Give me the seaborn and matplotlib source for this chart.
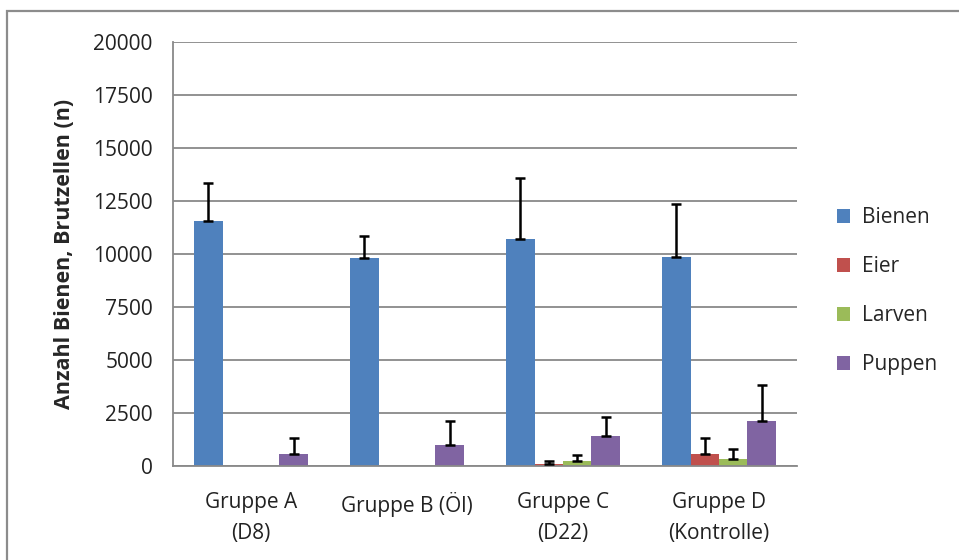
import numpy as np
import pandas as pd
import matplotlib
matplotlib.use("Agg")
import matplotlib.pyplot as plt
import seaborn as sns
from matplotlib.patches import Rectangle

# values
groups = ["Gruppe A\n(D8)", "Gruppe B (Öl)", "Gruppe C\n(D22)", "Gruppe D\n(Kontrolle)"]
series = ["Bienen", "Eier", "Larven", "Puppen"]
bienen = [11580, 9810, 10720, 9860]
eier = [0, 0, 80, 570]
larven = [0, 0, 220, 330]
puppen = [570, 1000, 1420, 2100]
bienen_err = [1780, 1050, 2880, 2480]
eier_err = [np.nan, np.nan, 170, 760]
larven_err = [np.nan, np.nan, 310, 460]
puppen_err = [760, 1140, 890, 1740]
y_ticks = [0, 2500, 5000, 7500, 10000, 12500, 15000, 17500, 20000]

colors = ["#4F81BD", "#C0504D", "#9BBB59", "#8064A2"]
grid_col = "#898989"

sns.set_style("white")
plt.rcParams['font.family'] = ['Open Sans', 'DejaVu Sans']

values = [bienen, eier, larven, puppen]
errors = [bienen_err, eier_err, larven_err, puppen_err]
df = pd.DataFrame({
    "Gruppe": [g for _ in series for g in groups],
    "Serie": [s for s in series for _ in groups],
    "Wert": [v for vals in values for v in vals],
})

fig = plt.figure(figsize=(9.59, 5.6), dpi=100)
ax = fig.add_axes([173 / 959, 1 - 466 / 560, (797 - 173) / 959, (466 - 42) / 560])

sns.barplot(data=df, x="Gruppe", y="Wert", hue="Serie", order=groups,
            hue_order=series, palette=colors, width=0.73, gap=0,
            errorbar=None, linewidth=0, saturation=1, ax=ax)

# one-sided (upward) error bars on top of each bar, skipping empty bars
for cont, errs in zip(ax.containers, errors):
    bars = sorted(cont.patches, key=lambda b: b.get_x())
    xs, hs, es = [], [], []
    for b, e in zip(bars, errs):
        if np.isnan(e):
            continue
        xs.append(b.get_x() + b.get_width() / 2)
        hs.append(b.get_height())
        es.append(e)
    if not xs:
        continue
    ax.errorbar(xs, hs, yerr=[np.zeros(len(es)), es], fmt="none", ecolor="black",
                elinewidth=1.8, capsize=3.8, capthick=1.8, zorder=5)

ax.set_ylim(0, 20000)
ax.set_xlim(-0.5, 3.5)
ax.set_yticks(y_ticks)
ax.set_yticklabels([str(t) for t in y_ticks])
ax.yaxis.grid(True, color=grid_col, linewidth=1.3)
ax.set_axisbelow(True)

# pad single-line labels with a blank line so every first line sits at the same height
ax.set_xticks(range(len(groups)))
ax.set_xticklabels([g if "\n" in g else g + "\n\u00a0" for g in groups], linespacing=1.6)
ax.set_xticks(np.arange(-0.5, len(groups), 1.0), minor=True)
ax.tick_params(axis="x", which="major", length=0, pad=19, labelsize=15, colors="#222222")
ax.tick_params(axis="x", which="minor", length=6.5, width=1.3, color=grid_col, direction="out")
ax.tick_params(axis="y", length=5.5, width=1.3, color=grid_col, direction="out",
               labelsize=15, pad=9, colors="#222222")
ax.tick_params(axis="y", colors=grid_col, labelcolor="#222222")

for side in ["top", "right"]:
    ax.spines[side].set_visible(False)
for side in ["left", "bottom"]:
    ax.spines[side].set_color(grid_col)
    ax.spines[side].set_linewidth(1.3)

ax.set_xlabel("")
ax.set_ylabel("Anzahl Bienen, Brutzellen (n)", fontsize=15.5, fontweight="bold",
              labelpad=13)

ax.legend(loc="center left", bbox_to_anchor=(0.853, 0.48), bbox_transform=fig.transFigure,
          frameon=False, fontsize=15, handlelength=0.65, handleheight=0.65,
          labelspacing=1.35, handletextpad=0.55)

# outer chart border (left and top visible)
fig.patches.append(Rectangle((7 / 959, -0.2), 1.2, 1.2 - 11 / 560,
                             transform=fig.transFigure, fill=False,
                             edgecolor="#8c8c8c", linewidth=1.6))

fig.savefig("out.png", dpi=100)
